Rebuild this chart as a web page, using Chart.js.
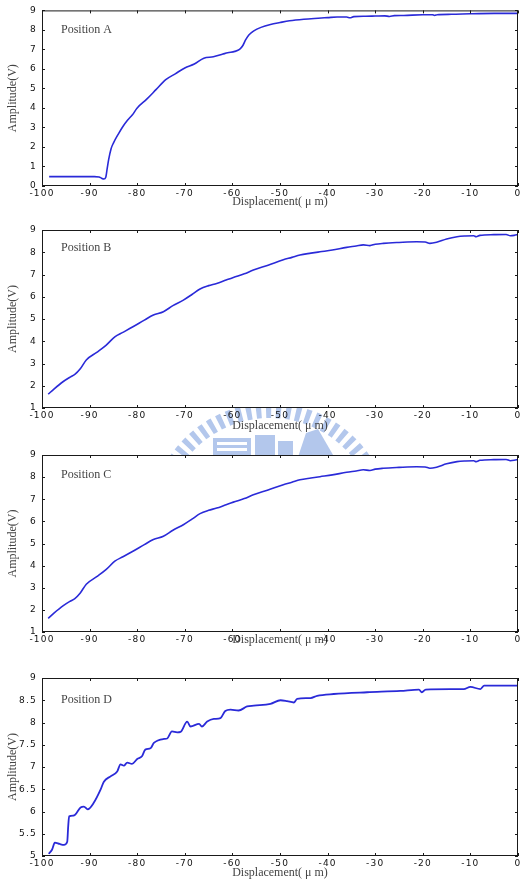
<!DOCTYPE html>
<html><head><meta charset="utf-8">
<script src="https://cdn.jsdelivr.net/npm/chart.js@4.4.0/dist/chart.umd.min.js"></script>
<style>
html,body{margin:0;padding:0;background:#fff;width:523px;height:892px;overflow:hidden;position:relative}
canvas{position:absolute;left:0}
</style></head><body>
<canvas id="wm" width="523" height="892" style="top:0"></canvas>
<canvas id="cA" width="523" height="218" style="top:0"></canvas>
<canvas id="cB" width="523" height="224" style="top:218px"></canvas>
<canvas id="cC" width="523" height="220" style="top:442px"></canvas>
<canvas id="cD" width="523" height="230" style="top:662px"></canvas>
<script>
// ---------- data ----------
const xTicks = [-100,-90,-80,-70,-60,-50,-40,-30,-20,-10,0];
const yTicksA = [0,1,2,3,4,5,6,7,8,9];
const yTicksB = [1,2,3,4,5,6,7,8,9];
const yTicksC = [1,2,3,4,5,6,7,8,9];
const yTicksD = [5,5.5,6,6.5,7,7.5,8,8.5,9];

const panelLabels = ['Position A','Position B','Position C','Position D'];
const xTitle = 'Displacement( \u03bc m)';
const yTitle = 'Amplitude(V)';

const xA = [-98.5,-95,-91,-89,-88,-87.5,-87,-86.6,-86.3,-86,-85.5,-85,-84,-83,-82,-81,-80,-78,-76,-74,-72,-70,-68,-66,-64,-62,-61,-59.5,-58.5,-57.8,-57.2,-56.5,-55.5,-54,-52,-50,-48,-45,-42,-40,-38,-36,-35.3,-34.5,-32,-30,-28,-27,-26,-24,-20,-18,-17.5,-17,-14,-10,-5,0];
const yA = [0.48,0.48,0.48,0.48,0.46,0.40,0.36,0.45,0.9,1.35,1.9,2.2,2.65,3.05,3.38,3.65,4.0,4.45,4.95,5.45,5.75,6.05,6.25,6.55,6.62,6.76,6.83,6.9,7.0,7.2,7.5,7.75,7.95,8.13,8.28,8.38,8.47,8.55,8.6,8.63,8.66,8.66,8.62,8.68,8.7,8.71,8.72,8.69,8.73,8.74,8.78,8.78,8.74,8.78,8.8,8.83,8.85,8.85];

const xB = [-98.7,-97.5,-95.6,-94,-93.1,-92,-90.7,-88.5,-86.5,-84.7,-83,-80.9,-78.5,-76.6,-74.5,-72.5,-70.3,-68.5,-66.8,-65,-63.3,-61.5,-59.8,-57.5,-55.6,-52.5,-49.3,-47.5,-45.8,-43.5,-41.6,-39,-36,-34,-32.5,-31.1,-30,-28.3,-25,-21.3,-19.5,-18.5,-17.1,-15,-12.8,-11,-9.3,-8.8,-8,-5.1,-2.5,-1.6,-0.8,0];
const yB = [1.62,1.85,2.18,2.4,2.51,2.75,3.16,3.5,3.83,4.2,4.4,4.65,4.95,5.18,5.33,5.6,5.85,6.1,6.35,6.5,6.6,6.74,6.87,7.03,7.2,7.42,7.66,7.77,7.88,7.96,8.02,8.1,8.22,8.28,8.33,8.3,8.36,8.4,8.44,8.47,8.46,8.4,8.45,8.6,8.7,8.73,8.74,8.7,8.76,8.79,8.8,8.74,8.76,8.8];

const xC = [-98.7,-97.5,-95.6,-94,-93.1,-92,-90.7,-88.5,-86.5,-84.7,-83,-80.9,-78.5,-76.6,-74.5,-72.5,-70.3,-68.5,-66.8,-65,-63.3,-61.5,-59.8,-57.5,-55.6,-52.5,-49.3,-47.5,-45.8,-43.5,-41.6,-39,-36,-34,-32.5,-31.1,-30,-28.3,-25,-21.3,-19.5,-18.5,-17.1,-15,-12.8,-11,-9.3,-8.8,-8,-5.1,-2.5,-1.6,-0.8,0];
const yC = [1.62,1.85,2.18,2.4,2.51,2.75,3.16,3.5,3.83,4.2,4.4,4.65,4.95,5.18,5.33,5.6,5.85,6.1,6.35,6.5,6.6,6.74,6.87,7.03,7.2,7.42,7.66,7.77,7.88,7.96,8.02,8.1,8.22,8.28,8.33,8.3,8.36,8.4,8.44,8.47,8.46,8.4,8.45,8.6,8.7,8.73,8.74,8.7,8.76,8.79,8.8,8.74,8.76,8.8];

const xD = [-98.6,-97.9,-97.3,-96.3,-95.4,-94.7,-94.5,-94.3,-93.3,-91.9,-91.2,-90.4,-89.1,-87.7,-87,-85.6,-84.2,-83.5,-82.8,-82.1,-81.1,-80,-79,-78.3,-77.2,-76.5,-74.4,-73.7,-72.7,-71.6,-70.9,-69.5,-68.8,-67,-66.4,-65.3,-63.9,-62.5,-61.5,-60.4,-58.7,-56.9,-55.5,-52,-49.9,-48.5,-47.1,-46.4,-43.6,-42.2,-38.7,-31.7,-24.7,-20.8,-20.2,-19.4,-14.2,-11.4,-10,-7.9,-7.1,0];
const yD = [5.05,5.14,5.3,5.27,5.25,5.32,5.66,5.89,5.91,6.09,6.11,6.05,6.2,6.49,6.67,6.79,6.9,7.06,7.03,7.1,7.07,7.18,7.24,7.39,7.42,7.54,7.63,7.64,7.8,7.78,7.79,8.02,7.91,7.97,7.91,8.02,8.08,8.1,8.26,8.29,8.27,8.36,8.38,8.42,8.5,8.48,8.45,8.53,8.55,8.6,8.64,8.68,8.71,8.74,8.68,8.74,8.75,8.75,8.8,8.75,8.83,8.83];

// ---------- watermark (background decoration) ----------
(function(){
  const w = document.getElementById('wm').getContext('2d');
  const col = '#b3c7ec';
  w.fillStyle = col;
  const cx = 270, cy = 524, r0 = 106, r1 = 121;
  for (let a = 203; a <= 336; a += 5) {
    const t0 = a*Math.PI/180, t1 = (a+2.6)*Math.PI/180;
    w.beginPath(); w.arc(cx,cy,r1,t0,t1); w.arc(cx,cy,r0,t1,t0,true); w.closePath(); w.fill();
  }
  w.fillRect(213,438,38,22);
  w.fillStyle = '#fff';
  w.fillRect(217,442,30,3); w.fillRect(217,448,30,3);
  w.fillStyle = col;
  w.fillRect(255,435,20,26);
  w.fillRect(278,441,15,20);
  w.beginPath(); w.moveTo(297,460); w.lineTo(306,433); w.lineTo(318,429); w.lineTo(336,460); w.closePath(); w.fill();
})();

// ---------- charts ----------
const framePlugin = {
  id: 'frame',
  beforeDraw(c) {
    const {ctx, chartArea: a} = c;
    ctx.save(); ctx.fillStyle = '#fff';
    ctx.fillRect(a.left, a.top, a.right - a.left, a.bottom - a.top);
    ctx.restore();
    ctx.letterSpacing = '0px';
  },
  afterDatasetsDraw(c) {
    const {ctx, chartArea: a, scales} = c;
    ctx.save();
    ctx.strokeStyle = '#1a1a1a'; ctx.lineWidth = 1;
    ctx.strokeRect(a.left + 0.5, a.top + 0.5, a.right - a.left - 1, a.bottom - a.top - 1);
    ctx.beginPath();
    scales.x.ticks.forEach(t => {
      const p = Math.round(scales.x.getPixelForValue(t.value)) + 0.5;
      ctx.moveTo(p, a.bottom); ctx.lineTo(p, a.bottom - 3);
      ctx.moveTo(p, a.top); ctx.lineTo(p, a.top + 3);
    });
    scales.y.ticks.forEach(t => {
      const p = Math.round(scales.y.getPixelForValue(t.value)) + 0.5;
      ctx.moveTo(a.left, p); ctx.lineTo(a.left + 3, p);
      ctx.moveTo(a.right, p); ctx.lineTo(a.right - 3, p);
    });
    ctx.stroke();
    ctx.restore();
    ctx.letterSpacing = '1.2px';
  },
  afterDraw(c) {
    const {ctx, chartArea: a} = c;
    ctx.letterSpacing = '0px';
    ctx.save();
    ctx.font = '12px "Liberation Serif"';
    ctx.fillStyle = '#444';
    ctx.textBaseline = 'middle';
    ctx.fillText(c.options.plugins.frame.label, a.left + 19, a.top + c.options.plugins.frame.labelDy);
    ctx.restore();
  }
};

function makeChart(id, xs, ys, yTicks, L) {
  const pts = xs.map((x, i) => ({x: x, y: ys[i]}));
  return new Chart(document.getElementById(id), {
    type: 'line',
    data: {datasets: [{data: pts, borderColor: '#2a2ad8', borderWidth: L.lw, pointRadius: 0,
      cubicInterpolationMode: 'monotone', fill: false}]},
    plugins: [framePlugin],
    options: {
      responsive: false, animation: false, events: [],
      layout: {padding: {top: L.padTop, left: 0, right: 5, bottom: 0}},
      plugins: {legend: {display: false}, tooltip: {enabled: false},
        frame: {label: L.label, labelDy: L.labelDy}},
      scales: {
        x: {
          type: 'linear', min: -100, max: 0,
          afterBuildTicks: s => { s.ticks = xTicks.map(v => ({value: v})); },
          afterFit: s => { s.height = L.xh; },
          grid: {display: false, drawTicks: false},
          border: {display: false},
          ticks: {autoSkip: false, maxRotation: 0, padding: 2, z: 1,
            color: ctx => (L.hideX !== undefined && ctx.tick && ctx.tick.value === L.hideX) ? 'rgba(0,0,0,0)' : '#111',
            font: {family: 'DejaVu Sans', size: 9}, callback: v => String(v)},
          title: {display: true, text: xTitle, color: '#444',
            font: {family: 'Liberation Serif', size: 12}, padding: {top: 0, bottom: L.tpad}}
        },
        y: {
          type: 'linear', min: yTicks[0], max: yTicks[yTicks.length - 1],
          afterBuildTicks: s => { s.ticks = yTicks.map(v => ({value: v})); },
          afterFit: s => { s.width = 42; },
          grid: {display: false, drawTicks: false},
          border: {display: false},
          ticks: {padding: 5, z: 1, color: '#111',
            font: {family: 'DejaVu Sans', size: 9}, callback: v => String(v)},
          title: {display: true, text: yTitle, color: '#444',
            font: {family: 'Liberation Serif', size: 12}, padding: {top: 5.8, bottom: 0}}
        }
      }
    }
  });
}

makeChart('cA', xA, yA, yTicksA, {padTop: 9, xh: 32, tpad: 8.8, label: panelLabels[0], labelDy: 19, lw: 1.6});
makeChart('cB', xB, yB, yTicksB, {padTop: 12, xh: 34, tpad: 9.1, label: panelLabels[1], labelDy: 18, lw: 1.6});
makeChart('cC', xC, yC, yTicksC, {padTop: 13, xh: 30, tpad: 14.8, label: panelLabels[2], labelDy: 20, lw: 1.6, hideX: -50});
makeChart('cD', xD, yD, yTicksD, {padTop: 16, xh: 36, tpad: 11.8, label: panelLabels[3], labelDy: 22, lw: 1.8});
</script>
</body></html>
